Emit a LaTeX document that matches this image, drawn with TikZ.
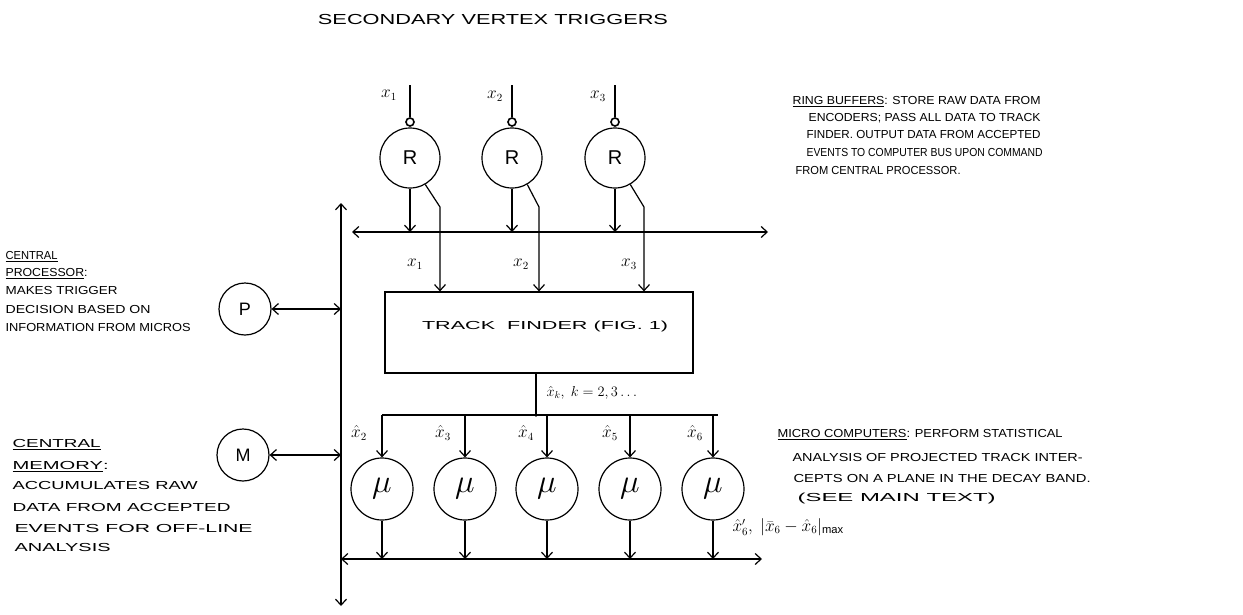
\documentclass[tikz,border=0pt]{standalone}
\usepackage{fontspec}
\setmainfont{Liberation Sans}
\usepackage{graphicx}
\usetikzlibrary{arrows.meta}
\newcommand{\hw}[3][8pt]{\resizebox{#2}{#1}{\raisebox{0pt}[\fontcharht\font`A]{#3}}}
\newcommand{\bigmu}{\scalebox{1.6}{$\mu$}}
\begin{document}
\begin{tikzpicture}[x=1pt,y=-1pt,line width=1.2pt,
  >={Straight Barb[length=6pt,width=11pt]},
  txt/.style={anchor=base west,inner sep=0pt},
  ctxt/.style={anchor=center,inner sep=0pt},
  lbl/.style={inner sep=0pt,font=\fontsize{16}{16}\selectfont},
  rbuf/.style={circle,draw,minimum size=60pt,inner sep=0pt,font=\fontsize{20}{20}\selectfont},
  micro/.style={circle,draw,minimum size=62pt,inner sep=0pt,font=\fontsize{20}{20}\selectfont},
  cpu/.style={circle,draw,minimum size=52pt,inner sep=0pt,font=\fontsize{18}{18}\selectfont},
  ring/.style={circle,draw,minimum size=8pt,inner sep=0pt,line width=1.6pt},
  box/.style={draw,minimum width=308pt,minimum height=81pt,inner sep=0pt}]
\useasboundingbox (0,0) rectangle (1243,614);

% title
\node[ctxt] (title) at (493,20) {\hw[10pt]{350pt}{SECONDARY VERTEX TRIGGERS}};

% buses
\coordinate (tbL) at (352,232); \coordinate (tbR) at (768,232);
\coordinate (vT) at (341,203); \coordinate (vB) at (341,606);
\coordinate (bbL) at (341,559); \coordinate (bbR) at (762,559);
\draw[<->] (tbL) -- (tbR);
\draw[<->] (vT) -- (vB);
\draw[<->] (bbL) -- (bbR);

% ring buffers
\node[rbuf] (r1) at (410,158) {R};
\node[rbuf] (r2) at (512,158) {R};
\node[rbuf] (r3) at (615,158) {R};
\node[ring] (s1) at (410,122) {};
\node[ring] (s2) at (512,122) {};
\node[ring] (s3) at (615,122) {};
\coordinate (i1) at (410,85); \coordinate (i2) at (512,85); \coordinate (i3) at (615,85);
\draw (i1) -- (s1); \draw (i2) -- (s2); \draw (i3) -- (s3);
\node[lbl] (li1) at (389,95) {$x_1$};
\node[lbl] (li2) at (495,96) {$x_2$};
\node[lbl] (li3) at (598,96) {$x_3$};

\draw[->] (r1.south) -- (r1.south |- tbL);
\draw[->] (r2.south) -- (r2.south |- tbL);
\draw[->] (r3.south) -- (r3.south |- tbL);

% track finder
\node[box] (tf) at (539,332.5) {};
\node[ctxt] (tft) at (545,327) {\hw{246pt}{TRACK\ \ FINDER (FIG. 1)}};

\coordinate (k1) at (440,207); \coordinate (k2) at (539,207); \coordinate (k3) at (644,207);
\draw[->] (r1.-60) -- (k1) -- (k1 |- tf.north);
\draw[->] (r2.-60) -- (k2) -- (k2 |- tf.north);
\draw[->] (r3.-60) -- (k3) -- (k3 |- tf.north);
\node[lbl] (lo1) at (415,264) {$x_1$};
\node[lbl] (lo2) at (521,264) {$x_2$};
\node[lbl] (lo3) at (629,264) {$x_3$};

% processor and memory
\node[cpu] (P) at (245,309) {P};
\node[cpu] (M) at (243,455) {M};
\draw[<->] (P.east) -- (P.east -| vT);
\draw[<->] (M.east) -- (M.east -| vT);

% micros
\node[micro] (m1) at (382,489) {\bigmu};
\node[micro] (m2) at (465,489) {\bigmu};
\node[micro] (m3) at (547,489) {\bigmu};
\node[micro] (m4) at (630,489) {\bigmu};
\node[micro] (m5) at (713,489) {\bigmu};

\coordinate (o) at (536,415);
\draw (tf.south -| o) -- (o);
\fill (o) circle (1.8pt);
\draw (m1.north |- o) -- ([xshift=5pt]m5.north |- o);
\draw[->] (m1.north |- o) -- (m1.north);
\draw[->] (m2.north |- o) -- (m2.north);
\draw[->] (m3.north |- o) -- (m3.north);
\draw[->] (m4.north |- o) -- (m4.north);
\draw[->] (m5.north |- o) -- (m5.north);
\node[lbl,anchor=west,font=\fontsize{14}{14}\selectfont] (lk) at (546,393) {$\hat{x}_k,\ k=2,3\ldots$};

\node[lbl] (h2) at (359,433) {$\hat{x}_2$};
\node[lbl] (h3) at (443,433) {$\hat{x}_3$};
\node[lbl] (h4) at (526,433) {$\hat{x}_4$};
\node[lbl] (h5) at (610,433) {$\hat{x}_5$};
\node[lbl] (h6) at (695,433) {$\hat{x}_6$};

\draw[->] (m1.south) -- (m1.south |- bbL);
\draw[->] (m2.south) -- (m2.south |- bbL);
\draw[->] (m3.south) -- (m3.south |- bbL);
\draw[->] (m4.south) -- (m4.south |- bbL);
\draw[->] (m5.south) -- (m5.south |- bbL);
\node[lbl,anchor=west,font=\fontsize{16}{16}\selectfont] (lres) at (732,527) {$\hat{x}_6',\ |\bar{x}_6-\hat{x}_6|_{\max}$};

% ring buffer text
\node[txt] (rb1) at (792,104) {\hw{248pt}{\underline{RING BUFFERS}: STORE RAW DATA FROM}};
\node[txt] (rb2) at (808,121) {\hw{232pt}{ENCODERS; PASS ALL DATA TO TRACK}};
\node[txt] (rb3) at (806,138) {\hw{234pt}{FINDER. OUTPUT DATA FROM ACCEPTED}};
\node[txt] (rb4) at (806,156) {\hw{236pt}{EVENTS TO COMPUTER BUS UPON COMMAND}};
\node[txt] (rb5) at (795,174) {\hw{165pt}{FROM CENTRAL PROCESSOR.}};

% central processor text
\node[txt] (cp1) at (5,259) {\hw{52pt}{\underline{CENTRAL}}};
\node[txt] (cp2) at (5,276) {\hw{82pt}{\underline{PROCESSOR}:}};
\node[txt] (cp3) at (5,294) {\hw{112pt}{MAKES TRIGGER}};
\node[txt] (cp4) at (5,313) {\hw{145pt}{DECISION BASED ON}};
\node[txt] (cp5) at (5,331) {\hw{185pt}{INFORMATION FROM MICROS}};

% central memory text
\node[txt] (cm1) at (12,447) {\hw{88pt}{\underline{CENTRAL}}};
\node[txt] (cm2) at (12,469) {\hw{96pt}{\underline{MEMORY}:}};
\node[txt] (cm3) at (12,489) {\hw{185pt}{ACCUMULATES RAW}};
\node[txt] (cm4) at (12,511) {\hw{218pt}{DATA FROM ACCEPTED}};
\node[txt] (cm5) at (14,532) {\hw{238pt}{EVENTS FOR OFF-LINE}};
\node[txt] (cm6) at (14,551) {\hw{96pt}{ANALYSIS}};

% micro computers text
\node[txt] (mc1) at (777,437) {\hw{285pt}{\underline{MICRO COMPUTERS}: PERFORM STATISTICAL}};
\node[txt] (mc2) at (792,461) {\hw{290pt}{ANALYSIS OF PROJECTED TRACK INTER-}};
\node[txt] (mc3) at (793,482) {\hw{297pt}{CEPTS ON A PLANE IN THE DECAY BAND.}};
\node[txt] (mc4) at (797,501) {\hw{198pt}{(SEE MAIN TEXT)}};
\end{tikzpicture}
\end{document}
